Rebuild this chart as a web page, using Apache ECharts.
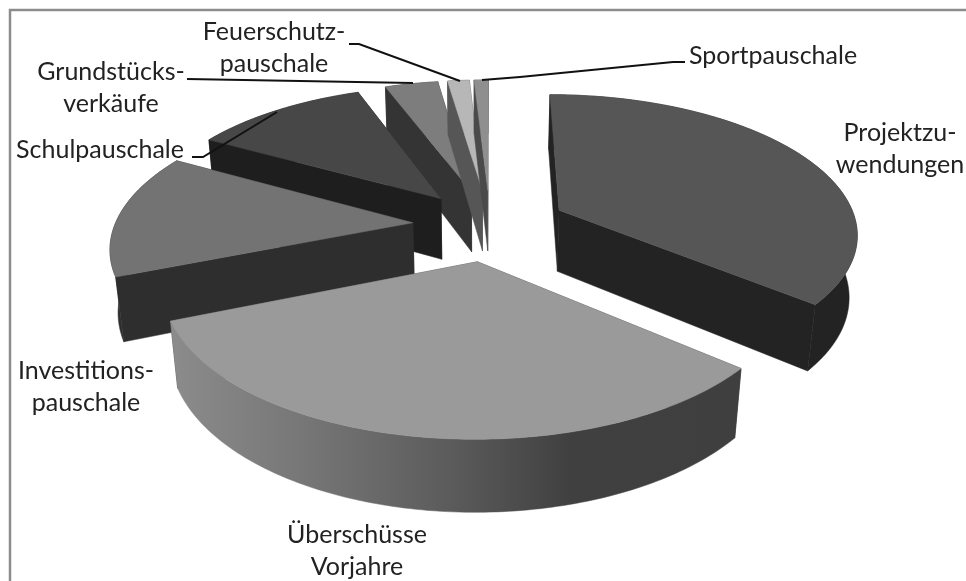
<!DOCTYPE html>
<html>
<head>
<meta charset="utf-8">
<style>
  html, body { margin: 0; padding: 0; background: #fff; }
  #chart { width: 966px; height: 581px; }
</style>
<script src="https://cdn.jsdelivr.net/npm/echarts@6/dist/echarts.min.js"></script>
</head>
<body>
<div id="chart"></div>
<script>
// shares in percent
const categories = ["Projektzuwendungen", "Überschüsse Vorjahre", "Investitionspauschale", "Schulpauschale", "Grundstücksverkäufe", "Feuerschutzpauschale", "Sportpauschale"];
const values = [36.1, 32.8, 14.2, 11.2, 3.4, 1.4, 0.9];

const topColors = ["#565656", "#9a9a9a", "#737373", "#474747", "#7d7d7d", "#b7b7b7", "#8f8f8f"];
const sideColors = ["#232323", "#3f3f3f", "#2e2e2e", "#1e1e1e", "#343434", "#565656", "#4a4a4a"];
// back to front
const drawOrder = [4, 5, 6, 3, 2, 0, 1];

// projection of the pie plane
const view = { cx: 490, cy: 225, a: 298, b: 137.5, persp: 0.154, radius: 1, explode: 0.26, depth: 62, depthPersp: 0.12, vanishX: 480, shrink: 0.0225 };

const labels = [
  { lines: ["Projektzu-", "wendungen"], x: 900, y: 133 },
  { lines: ["Überschüsse", "Vorjahre"], x: 357, y: 535 },
  { lines: ["Investitions-", "pauschale"], x: 86, y: 371 },
  { lines: ["Schulpauschale"], x: 100, y: 150 },
  { lines: ["Grundstücks-", "verkäufe"], x: 111, y: 72 },
  { lines: ["Feuerschutz-", "pauschale"], x: 274, y: 32 },
  { lines: ["Sportpauschale"], x: 773, y: 56 }
];
const leaders = [
  [[349, 44], [359, 44], [460, 81]],
  [[187, 79], [300, 81], [413, 83]],
  [[192, 157], [203, 157], [277, 112]],
  [[482, 80], [520, 77], [673, 62], [685, 62]]
];

const total = values.reduce((sum, v) => sum + v, 0);
const startAngles = [];
values.reduce((acc, v, i) => {
  startAngles[i] = acc;
  return acc + v / total * 360;
}, 0);

// plane point (X right, Y towards viewer), h = 1 means the lower face
function project(X, Y, h) {
  const s = 1 / (1 - view.persp * Y);
  const x = view.cx + view.a * X * s;
  const y = view.cy + view.b * Y * s;
  if (!h) {
    return [x, y];
  }
  const drop = view.depth / (1 - view.depthPersp * Y);
  return [view.vanishX + (x - view.vanishX) * (1 - view.shrink * drop / 65), y + drop];
}

function rimPoint(apex, deg) {
  const rad = deg * Math.PI / 180;
  return [apex[0] + view.radius * Math.sin(rad), apex[1] - view.radius * Math.cos(rad)];
}

function sliceShapes(index) {
  const from = startAngles[index];
  const sweep = values[index] / total * 360;
  const mid = (from + sweep / 2) * Math.PI / 180;
  const apex = [view.explode * Math.sin(mid), -view.explode * Math.cos(mid)];

  const rim = [];
  const steps = Math.max(2, Math.ceil(sweep));
  for (let i = 0; i <= steps; i++) {
    rim.push(rimPoint(apex, from + sweep * i / steps));
  }

  const top = [project(apex[0], apex[1], 0)].concat(rim.map((p) => project(p[0], p[1], 0)));
  const rimTop = rim.map((p) => project(p[0], p[1], 0));
  const rimBottom = rim.map((p) => project(p[0], p[1], 1));
  const first = rim[0];
  const last = rim[rim.length - 1];
  const face = (p) => [
    project(apex[0], apex[1], 0),
    project(p[0], p[1], 0),
    project(p[0], p[1], 1),
    project(apex[0], apex[1], 1)
  ];

  return { top, rimBand: rimTop.concat(rimBottom.reverse()), faceA: face(first), faceB: face(last) };
}

function rimFill(index) {
  if (index !== 1) {
    return sideColors[index];
  }
  // lit band on the big front slice, in page coordinates
  return new echarts.graphic.LinearGradient(168, 0, 745, 0, [
    { offset: 0, color: "#8c8c8c" },
    { offset: 0.25, color: "#757575" },
    { offset: 0.5, color: "#5a5a5a" },
    { offset: 0.7, color: "#404040" },
    { offset: 1, color: "#3f3f3f" }
  ], true);
}

function renderSlice(params) {
  const index = params.dataIndex;
  const rank = drawOrder.indexOf(index) * 10;
  const shapes = sliceShapes(index);
  const side = sideColors[index];
  const poly = (points, fill, z) => ({
    type: "polygon",
    z2: rank + z,
    shape: { points },
    style: { fill, stroke: fill, lineWidth: 0.5 }
  });
  return {
    type: "group",
    children: [
      poly(shapes.faceA, side, 1),
      poly(shapes.faceB, side, 2),
      poly(shapes.rimBand, rimFill(index), 3),
      poly(shapes.top, topColors[index], 4)
    ]
  };
}

const chart = echarts.init(document.getElementById("chart"), null, { renderer: "canvas" });

const labelElements = [];
labels.forEach((label) => {
  label.lines.forEach((line, i) => {
    labelElements.push({
      type: "text",
      x: label.x,
      y: label.y + i * 32,
      style: { text: line, fill: "#222", font: '25px Lato, "Noto Sans", sans-serif', align: "center", verticalAlign: "middle" }
    });
  });
});
const leaderElements = leaders.map((points) => ({
  type: "polyline",
  shape: { points },
  style: { stroke: "#111", lineWidth: 2, fill: null }
}));

chart.setOption({
  backgroundColor: "#fff",
  animation: false,
  tooltip: { show: false },
  graphic: [
    // only the top and left frame edges fall inside the picture
    { type: "rect", shape: { x: 10, y: 10, width: 1000, height: 1000 }, style: { fill: null, stroke: "#8c8c8c", lineWidth: 2.5 }, z: 1 },
    ...labelElements.map((el) => ({ ...el, z: 5 })),
    ...leaderElements.map((el) => ({ ...el, z: 5 }))
  ],
  series: [
    {
      type: "custom",
      coordinateSystem: "none",
      silent: true,
      z: 2,
      data: values.map((value, i) => ({ name: categories[i], value })),
      renderItem: renderSlice
    }
  ]
});
</script>
</body>
</html>
